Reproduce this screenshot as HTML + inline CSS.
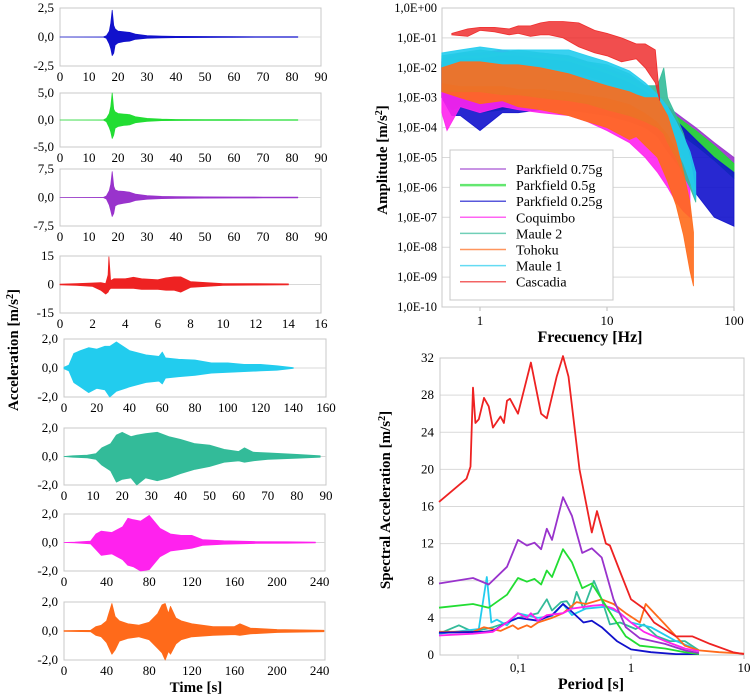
<!DOCTYPE html>
<html><head><meta charset="utf-8">
<style>
html,body{margin:0;padding:0;background:#fff;}
svg{display:block;font-family:"Liberation Serif","DejaVu Serif",serif;}
text{font-family:"Liberation Serif","DejaVu Serif",serif;}
</style></head>
<body>
<svg id="fig" width="752" height="699" viewBox="0 0 752 699" xmlns="http://www.w3.org/2000/svg" font-family="Liberation Serif, DejaVu Serif, serif"></svg>
<script>
// ---------- Time history data (envelopes) ----------
const p1Times=[0,15,16,17,17.5,18,18.5,19,20,22,24,26,30,35,40,50,60,70,82];
const p1Pos=[0,0.01,0.1,0.5,1.2,2.3,1.0,0.7,0.5,0.45,0.4,0.25,0.12,0.08,0.05,0.04,0.03,0.02,0.02];
const p1Neg=[0,-0.01,-0.1,-0.6,-1.0,-1.6,-1.4,-0.7,-0.5,-0.4,-0.35,-0.2,-0.1,-0.07,-0.05,-0.04,-0.03,-0.02,-0.02];
const p2Times=[0,15,16,17,17.5,18,18.5,19,20,22,24,26,30,35,40,50,60,70,82];
const p2Pos=[0,0.02,0.3,1.2,2.5,5.0,2.0,1.5,1.2,1.1,1.0,0.6,0.3,0.15,0.1,0.06,0.05,0.04,0.03];
const p2Neg=[0,-0.02,-0.3,-1.4,-2.2,-3.4,-2.8,-1.5,-1.2,-1.0,-0.9,-0.5,-0.25,-0.12,-0.1,-0.06,-0.05,-0.04,-0.03];
const p3Times=[0,15,16,17,17.5,18,18.5,19,20,22,24,26,30,35,40,50,60,70,82];
const p3Pos=[0,0.02,0.4,1.8,3.5,6.8,3.0,2.0,1.7,1.6,1.4,0.9,0.5,0.3,0.2,0.15,0.12,0.1,0.08];
const p3Neg=[0,-0.02,-0.4,-2.0,-3.5,-5.0,-4.2,-2.2,-1.8,-1.5,-1.3,-0.8,-0.45,-0.3,-0.2,-0.15,-0.12,-0.1,-0.08];
const p4Times=[0,1,2,2.5,2.8,2.95,3.0,3.1,3.3,4,4.5,5,6,6.5,7,7.4,8,9,10,12,14];
const p4Pos=[0.2,0.5,0.8,1,0.5,5,14.5,2,3,3,3.8,3,2.5,3.5,4,4,1.5,1,0.5,0.4,0.3];
const p4Neg=[-0.2,-0.5,-1,-3,-5,-4,-3,-2,-2,-2,-2,-2.5,-2.5,-3,-3,-4,-1.5,-1,-0.5,-0.3,-0.2];
const p5Times=[0,3,6,10,15,20,25,28,32,40,50,58,60,62,70,80,90,100,110,120,130,140];
const p5Pos=[0.05,0.2,1.0,1.2,1.4,1.3,1.5,1.5,1.8,1.2,0.9,0.8,1.1,0.7,0.6,0.55,0.35,0.35,0.25,0.25,0.15,0.03];
const p5Neg=[-0.05,-0.2,-1.0,-1.3,-1.7,-1.4,-1.5,-2.0,-1.6,-1.3,-1.0,-0.9,-1.1,-0.7,-0.6,-0.5,-0.35,-0.3,-0.25,-0.2,-0.15,-0.03];
const p6Times=[0,3,8,11,13,16,18,20,23,25,28,32,36,40,45,50,55,60,62,65,70,80,88];
const p6Pos=[0,0.05,0.1,0.2,0.6,0.9,1.5,1.7,1.4,1.5,1.6,1.7,1.4,1.2,0.9,0.8,0.5,0.35,0.6,0.3,0.25,0.15,0.05];
const p6Neg=[0,-0.05,-0.1,-0.2,-0.6,-1.0,-1.8,-1.6,-1.5,-2.0,-1.5,-1.7,-1.5,-1.2,-0.9,-0.7,-0.4,-0.3,-0.4,-0.3,-0.2,-0.12,-0.05];
const p7Times=[0,10,25,30,35,45,55,60,65,72,80,90,100,110,120,130,150,180,210,236];
const p7Pos=[0,0.02,0.1,0.6,0.8,0.7,1.1,1.7,1.6,1.5,1.9,1.0,0.6,0.5,0.5,0.2,0.12,0.06,0.05,0.03];
const p7Neg=[0,-0.02,-0.1,-0.5,-0.9,-0.8,-1.2,-1.6,-1.7,-2.0,-1.9,-1.0,-0.6,-0.5,-0.4,-0.2,-0.12,-0.06,-0.05,-0.03];
const p8Times=[0,25,30,35,40,45,48,52,60,70,80,88,92,95,98,100,105,110,120,140,160,165,175,200,244];
const p8Pos=[0.02,0.05,0.3,0.4,0.7,1.9,1.0,0.7,0.5,0.4,0.6,1.2,1.8,1.9,1.2,1.7,0.9,0.7,0.5,0.3,0.3,0.5,0.2,0.1,0.05];
const p8Neg=[-0.02,-0.05,-0.3,-0.4,-0.8,-1.6,-1.3,-0.7,-0.5,-0.4,-0.6,-1.2,-1.5,-2.0,-1.4,-1.6,-0.9,-0.6,-0.4,-0.3,-0.25,-0.3,-0.2,-0.1,-0.05];
const p1Ticks=["2,5","0,0","-2,5"], p2Ticks=["5,0","0,0","-5,0"], p3Ticks=["7,5","0,0","-7,5"], p4Ticks=["15","0","-15"];
const p2mTicks=["2,0","0,0","-2,0"];

// ---------- Fourier spectrum data (log10 amplitude envelopes) ----------
const fftTickLabels=["1,0E+00","1,0E-01","1,0E-02","1,0E-03","1,0E-04","1,0E-05","1,0E-06","1,0E-07","1,0E-08","1,0E-09","1,0E-10"];
const fftXTickLabels=["1","10","100"];
const pk75Freq=[0.5,0.6,0.7,1,1.5,2,3,5,7,10,15,20,25,30,40,50,70,100];
const pk75Up=[-1.7,-1.6,-1.5,-1.5,-1.4,-1.5,-1.5,-1.6,-1.8,-2.0,-2.3,-2.6,-3.0,-3.3,-3.7,-4.0,-4.5,-5.0];
const pk75Lo=[-3.0,-3.4,-3.2,-3.5,-3.4,-3.3,-3.2,-3.2,-3.3,-3.4,-3.6,-3.8,-3.9,-4.0,-4.2,-4.5,-5.0,-5.6];
const pk50Freq=[0.5,0.6,0.7,1,1.5,2,3,5,7,10,15,20,25,30,40,50,70,100];
const pk50Up=[-1.8,-1.7,-1.6,-1.6,-1.5,-1.6,-1.6,-1.7,-1.9,-2.1,-2.4,-2.7,-3.1,-3.4,-3.8,-4.1,-4.6,-5.2];
const pk50Lo=[-3.0,-3.4,-3.3,-3.5,-3.4,-3.3,-3.3,-3.3,-3.4,-3.5,-3.7,-3.9,-4.0,-4.1,-4.3,-4.6,-5.1,-5.7];
const pk25Freq=[0.5,0.6,0.7,1,1.5,2,3,5,7,10,15,20,25,30,40,50,70,100];
const pk25Up=[-1.9,-1.8,-1.7,-1.7,-1.6,-1.6,-1.7,-1.8,-2.0,-2.2,-2.5,-2.8,-3.1,-3.5,-4.0,-4.4,-5.0,-5.5];
const pk25Lo=[-3.0,-3.6,-3.6,-4.1,-3.5,-3.5,-3.4,-3.4,-3.5,-3.6,-3.8,-4.0,-4.3,-4.8,-5.5,-6.2,-7.0,-7.3];
const coqFreq=[0.5,0.55,0.7,1,1.5,2,3,5,7,10,15,20,25,30,35,40,45];
const coqUp=[-1.8,-1.8,-1.8,-1.8,-1.8,-1.9,-2.0,-2.1,-2.3,-2.5,-2.8,-3.2,-3.6,-4.1,-4.6,-5.0,-5.6];
const coqLo=[-3.5,-4.1,-3.3,-3.5,-3.3,-3.4,-3.5,-3.6,-3.8,-4.1,-4.5,-5.0,-5.5,-6.0,-6.5,-6.8,-7.0];
const m2Freq=[0.5,0.7,1,1.5,2,3,5,7,10,15,20,25,28,30,35,40,45,50];
const m2Up=[-1.6,-1.5,-1.4,-1.5,-1.4,-1.5,-1.6,-1.8,-1.9,-2.2,-2.6,-2.6,-2.0,-3.0,-3.6,-4.2,-5.0,-6.2];
const m2Lo=[-2.8,-2.8,-2.8,-2.9,-2.9,-3.0,-3.1,-3.2,-3.4,-3.6,-3.8,-4.0,-4.2,-4.5,-5.0,-5.6,-6.0,-6.5];
const tohFreq=[0.5,0.7,1,1.5,2,3,5,7,10,15,17,20,25,30,35,40,45,48];
const tohUp=[-2.0,-1.8,-1.8,-1.9,-1.9,-2.0,-2.2,-2.4,-2.6,-2.8,-2.9,-3.0,-3.0,-3.6,-4.5,-5.5,-6.5,-7.5];
const tohLo=[-2.8,-3.0,-3.2,-3.1,-3.3,-3.4,-3.6,-3.8,-4.0,-4.4,-4.3,-4.6,-5.0,-5.8,-6.6,-7.6,-8.8,-9.3];
const m1Freq=[0.5,0.7,1,1.5,2,3,5,7,10,15,20,25,30,35,40,45,50];
const m1Up=[-1.5,-1.4,-1.3,-1.4,-1.4,-1.4,-1.4,-1.6,-1.8,-2.1,-2.5,-2.9,-3.3,-3.8,-4.3,-4.8,-5.5];
const m1Lo=[-2.5,-2.6,-2.6,-2.6,-2.7,-2.7,-2.8,-2.9,-3.0,-3.2,-3.5,-3.8,-4.2,-4.7,-5.2,-5.8,-6.4];
const casFreq=[0.6,0.8,1,1.3,1.7,2,2.5,3,3.5,4.5,6,8,10,13,17,20,24,26];
const casUp=[-0.85,-0.7,-0.65,-0.65,-0.7,-0.6,-0.6,-0.5,-0.45,-0.45,-0.5,-0.75,-0.85,-1.0,-1.2,-1.2,-1.4,-3.0];
const casLo=[-0.9,-0.95,-0.75,-0.8,-0.9,-0.85,-0.95,-0.9,-0.9,-1.0,-1.3,-1.5,-1.6,-1.8,-1.7,-2.0,-2.5,-3.1];
const legendNames=["Parkfield 0.75g","Parkfield 0.5g","Parkfield 0.25g","Coquimbo","Maule 2","Tohoku","Maule 1","Cascadia"];

// ---------- Response spectra data ----------
const saTickLabels=["0","4","8","12","16","20","24","28","32"];
const saXTickLabels=["0,1","1","10"];
const casT=[0.02,0.035,0.038,0.04,0.042,0.045,0.05,0.055,0.06,0.07,0.075,0.08,0.085,0.1,0.13,0.16,0.18,0.22,0.25,0.28,0.35,0.45,0.5,0.6,0.65,0.8,1.0,1.3,1.6,2.5,3.5,5,8,10];
const casSA=[16.5,19,20.3,28.8,25,25.4,27.7,26.8,24.5,25.7,25,27.4,27.6,26,31.5,26,25.5,30,32.2,30,20,13.2,15.5,12,11.8,9,6,5,3.5,2,2,1.2,0.3,0.1];
const pk75T=[0.02,0.04,0.055,0.08,0.1,0.12,0.14,0.16,0.18,0.2,0.25,0.3,0.37,0.45,0.55,0.7,0.9,1.2,2,3,4];
const pk75SA=[7.7,8.3,7.6,9.5,12.4,11.8,12.1,11.4,13.6,12.4,17.0,15,11,11.5,10.5,6,3,1.8,1.2,0.5,0.2];
const pk50T=[0.02,0.04,0.055,0.08,0.1,0.12,0.14,0.16,0.18,0.2,0.25,0.3,0.37,0.45,0.52,0.7,0.9,1.2,2,3,4];
const pk50SA=[5.1,5.5,5.1,6.5,8.3,7.9,8.2,7.6,9.1,8.4,11.4,10,7.2,7.7,6.5,4,2,1,0.7,0.3,0.1];
const pk25T=[0.02,0.05,0.06,0.08,0.1,0.15,0.2,0.25,0.28,0.38,0.45,0.55,0.75,1,1.5,2.5,4];
const pk25SA=[2.4,2.5,2.6,3.5,4,3.7,4.3,5.5,5,3.5,3.7,3,1.5,0.6,0.3,0.1,0.1];
const coqT=[0.02,0.04,0.06,0.08,0.1,0.12,0.13,0.15,0.18,0.25,0.3,0.45,0.55,0.7,0.8,1,1.3,2,3,4];
const coqSA=[2.1,2.3,2.5,3.5,4.5,4,4.5,3.7,4.3,4.5,5,5.3,5.4,5,4.5,3.5,2.5,1.5,0.7,0.4];
const m2T=[0.02,0.03,0.04,0.06,0.08,0.1,0.15,0.18,0.2,0.24,0.27,0.3,0.33,0.38,0.47,0.55,0.65,0.8,1.1,1.3,1.7,2.2,3,4];
const m2SA=[2.3,3.2,2.5,3,3.5,4,4.5,6,4.8,5.7,5.8,5,6.8,5,8,6,3.3,3.5,2.8,3.3,2,1.5,1.5,0.5];
const tohT=[0.02,0.04,0.05,0.07,0.09,0.1,0.12,0.13,0.15,0.2,0.25,0.33,0.4,0.55,0.7,0.9,1.2,1.35,2,2.5,3,4,6,10];
const tohSA=[2.5,2.5,3,2.6,3.2,2.8,3.2,3,3.5,4,4.5,5.7,5.5,6,5.5,4.5,3.5,5.5,3.3,2,1,0.5,0.3,0.15];
const m1T=[0.02,0.045,0.053,0.058,0.065,0.08,0.1,0.15,0.2,0.25,0.3,0.4,0.6,0.8,1,1.5,2.5,3.5];
const m1SA=[2.3,2.8,8.4,3.5,3.8,3.2,4.5,4,4.2,5.5,4.3,5,5.2,4.5,3.5,3,1.5,0.8];

const C={pk75:"#9933cc",pk50:"#22dd33",pk25:"#1111cc",coq:"#ff22ee",m2:"#33bb99",toh:"#ff6a1a",m1:"#22ccee",cas:"#ee2222"};
const FONT="Liberation Serif, DejaVu Serif, serif";
const svg=document.getElementById('fig');
const NS="http://www.w3.org/2000/svg";
function mk(tag,attrs,parent){const e=document.createElementNS(NS,tag);for(const k in attrs)e.setAttribute(k,attrs[k]);(parent||svg).appendChild(e);return e;}
function txt(s,x,y,opts,parent){const e=mk('text',Object.assign({x:x,y:y,'font-size':13,fill:'#000','font-family':FONT},opts||{}),parent);e.textContent=s;return e;}

// ---------- time-history panels ----------
const panels=[
 {n:'parkfield-025g',t:p1Times,p:p1Pos,q:p1Neg,max:2.5,xmax:90,step:10,y0:8,y1:66,x0:60,x1:321,col:C.pk25,yt:p1Ticks},
 {n:'parkfield-05g',t:p2Times,p:p2Pos,q:p2Neg,max:5,xmax:90,step:10,y0:93,y1:147,x0:60,x1:321,col:C.pk50,yt:p2Ticks},
 {n:'parkfield-075g',t:p3Times,p:p3Pos,q:p3Neg,max:7.5,xmax:90,step:10,y0:169,y1:226,x0:60,x1:321,col:C.pk75,yt:p3Ticks},
 {n:'cascadia',t:p4Times,p:p4Pos,q:p4Neg,max:15,xmax:16,step:2,y0:256,y1:313,x0:60,x1:321,col:C.cas,yt:p4Ticks},
 {n:'maule-1',t:p5Times,p:p5Pos,q:p5Neg,max:2,xmax:160,step:20,y0:339,y1:397,x0:64,x1:326,col:C.m1,yt:p2mTicks},
 {n:'maule-2',t:p6Times,p:p6Pos,q:p6Neg,max:2,xmax:90,step:10,y0:428,y1:485,x0:64,x1:326,col:C.m2,yt:p2mTicks},
 {n:'coquimbo',t:p7Times,p:p7Pos,q:p7Neg,max:2,xmax:245,step:40,y0:514,y1:571,x0:64,x1:325,col:C.coq,yt:p2mTicks},
 {n:'tohoku',t:p8Times,p:p8Pos,q:p8Neg,max:2,xmax:245,step:40,y0:602,y1:660,x0:64,x1:325,col:C.toh,yt:p2mTicks}
];
panels.forEach(P=>{
 const g=mk('g',{});
 
 
 const X=v=>P.x0+(P.x1-P.x0)*v/P.xmax, Y=v=>(P.y0+P.y1)/2-(P.y1-P.y0)/2*v/P.max;
 mk('rect',{x:P.x0,y:P.y0,width:P.x1-P.x0,height:P.y1-P.y0,fill:'none',stroke:'#c8c8c8','stroke-width':1},g);
 mk('line',{x1:P.x0,x2:P.x1,y1:Y(0),y2:Y(0),stroke:'#d8d8d8'},g);
 let d='M'+X(P.t[0])+','+Y(P.p[0]);
 for(let i=1;i<P.t.length;i++)d+=' L'+X(P.t[i]).toFixed(1)+','+Y(P.p[i]).toFixed(1);
 for(let i=P.t.length-1;i>=0;i--)d+=' L'+X(P.t[i]).toFixed(1)+','+Y(P.q[i]).toFixed(1);
 const sig=mk('path',{d:d+'Z',fill:P.col,stroke:P.col,'stroke-width':0.8,'stroke-linejoin':'round'},g);
 
 
 const ys=[P.y0,(P.y0+P.y1)/2,P.y1];
 P.yt.forEach((s,i)=>{const t=txt(s,P.x0-6,ys[i]+4,{'text-anchor':'end'},g);});
 for(let v=0;v<=P.xmax+0.01;v+=P.step){const t=txt(String(v),X(v),P.y1+15,{'text-anchor':'middle'},g);}
});
let t1=txt('Acceleration [m/s',0,0,{'font-size':15,'font-weight':'bold','text-anchor':'middle',transform:'translate(18,350) rotate(-90)'});

const s1=mk('tspan',{'font-size':10,dy:-5},t1);s1.textContent='2';const s1b=mk('tspan',{dy:5},t1);s1b.textContent=']';
let t2=txt('Time [s]',196,692,{'font-size':15,'font-weight':'bold','text-anchor':'middle'});


// ---------- FFT chart ----------
(function(){
 const x0=442,x1=734,y0=8,y1=307;
 const X=f=>480+127*Math.log10(f), Y=l=>y0+(y1-y0)*(-l)/10;
 const g=mk('g',{});
 for(let i=0;i<=10;i++){mk('line',{x1:x0,x2:x1,y1:Y(-i),y2:Y(-i),stroke:'#d9d9d9'},g);
  const t=txt(fftTickLabels[i],x0-5,Y(-i)+4,{'text-anchor':'end','font-size':12.5},g);}
 [1,10,100].forEach((f,i)=>{mk('line',{x1:X(f),x2:X(f),y1:y1,y2:y1+4,stroke:'#bbb'},g);
  const t=txt(fftXTickLabels[i],X(f),y1+18,{'text-anchor':'middle','font-size':13},g);});
 mk('rect',{x:x0,y:y0,width:x1-x0,height:y1-y0,fill:'none',stroke:'#c8c8c8'},g);
 const series=[['parkfield-075g',pk75Freq,pk75Up,pk75Lo,C.pk75],['parkfield-05g',pk50Freq,pk50Up,pk50Lo,C.pk50],['parkfield-025g',pk25Freq,pk25Up,pk25Lo,C.pk25],
  ['coquimbo',coqFreq,coqUp,coqLo,C.coq],['maule-2',m2Freq,m2Up,m2Lo,C.m2],['maule-1',m1Freq,m1Up,m1Lo,C.m1],['tohoku',tohFreq,tohUp,tohLo,C.toh],['cascadia',casFreq,casUp,casLo,C.cas]];
 series.forEach(s=>{
  let d='';s[1].forEach((f,i)=>{d+=(i?' L':'M')+X(f).toFixed(1)+','+Y(s[2][i]).toFixed(1);});
  for(let i=s[1].length-1;i>=0;i--)d+=' L'+X(s[1][i]).toFixed(1)+','+Y(s[3][i]).toFixed(1);
  const op=s[0]==='cascadia'?0.8:0.9;
  const p=mk('path',{d:d+'Z',fill:s[4],'fill-opacity':op,stroke:s[4],'stroke-width':0.8,'stroke-opacity':0.9},g);
  
 });
 const lg=mk('g',{},g);
 mk('rect',{x:450,y:150,width:163,height:150,fill:'#fff',stroke:'#c8c8c8'},lg);
 const lc=[C.pk75,C.pk50,C.pk25,C.coq,C.m2,C.toh,C.m1,C.cas];
 legendNames.forEach((n,i)=>{const yy=169+16.1*i;
  const e=mk('g',{},lg);
  mk('line',{x1:460,x2:506,y1:yy,y2:yy,stroke:lc[i],'stroke-width':i==1?2.5:1.5,'stroke-opacity':0.7},e);
  txt(n,516,yy+5,{'font-size':14},e);});
 let a=txt('Amplitude [m/s',0,0,{'font-size':15,'font-weight':'bold','text-anchor':'middle',transform:'translate(387,160) rotate(-90)'},g);
 
 const ss=mk('tspan',{'font-size':10,dy:-5},a);ss.textContent='2';const sb=mk('tspan',{dy:5},a);sb.textContent=']';
 const f=txt('Frecuency [Hz]',590,342,{'font-size':16,'font-weight':'bold','text-anchor':'middle'},g);
 
})();

// ---------- Response spectra chart ----------
(function(){
 const x0=440,x1=744,y0=358,y1=655;
 const X=p=>518+113*Math.log10(p/0.1), Y=v=>y1-(y1-y0)*v/32;
 const g=mk('g',{});
 saTickLabels.forEach((s,i)=>{const v=i*4;mk('line',{x1:x0,x2:x1,y1:Y(v),y2:Y(v),stroke:'#d9d9d9'},g);
  const t=txt(s,x0-6,Y(v)+4,{'text-anchor':'end','font-size':13},g);});
 [0.1,1,10].forEach((p,i)=>{mk('line',{x1:X(p),x2:X(p),y1:y1,y2:y1+4,stroke:'#bbb'},g);
  const t=txt(saXTickLabels[i],X(p),y1+17,{'text-anchor':'middle','font-size':13},g);});
 mk('rect',{x:x0,y:y0,width:x1-x0,height:y1-y0,fill:'none',stroke:'#c8c8c8'},g);
 const series=[['maule-2',m2T,m2SA,C.m2],['maule-1',m1T,m1SA,C.m1],['tohoku',tohT,tohSA,C.toh],['parkfield-025g',pk25T,pk25SA,C.pk25],['coquimbo',coqT,coqSA,C.coq],
  ['parkfield-05g',pk50T,pk50SA,C.pk50],['parkfield-075g',pk75T,pk75SA,C.pk75],['cascadia',casT,casSA,C.cas]];
 series.forEach(s=>{let d='';s[1].forEach((p,i)=>{d+=(i?' L':'M')+X(p).toFixed(1)+','+Y(s[2][i]).toFixed(1);});
  const l=mk('path',{d:d,fill:'none',stroke:s[3],'stroke-width':1.8,'stroke-linejoin':'round'},g);
  });
 let a=txt('Spectral Acceleration [m/s',0,0,{'font-size':15,'font-weight':'bold','text-anchor':'middle',transform:'translate(390,500) rotate(-90)'},g);
 
 const ss=mk('tspan',{'font-size':10,dy:-5},a);ss.textContent='2';const sb=mk('tspan',{dy:5},a);sb.textContent=']';
 const f=txt('Period [s]',591,689,{'font-size':16,'font-weight':'bold','text-anchor':'middle'},g);
 
})();
</script>
</body></html>
